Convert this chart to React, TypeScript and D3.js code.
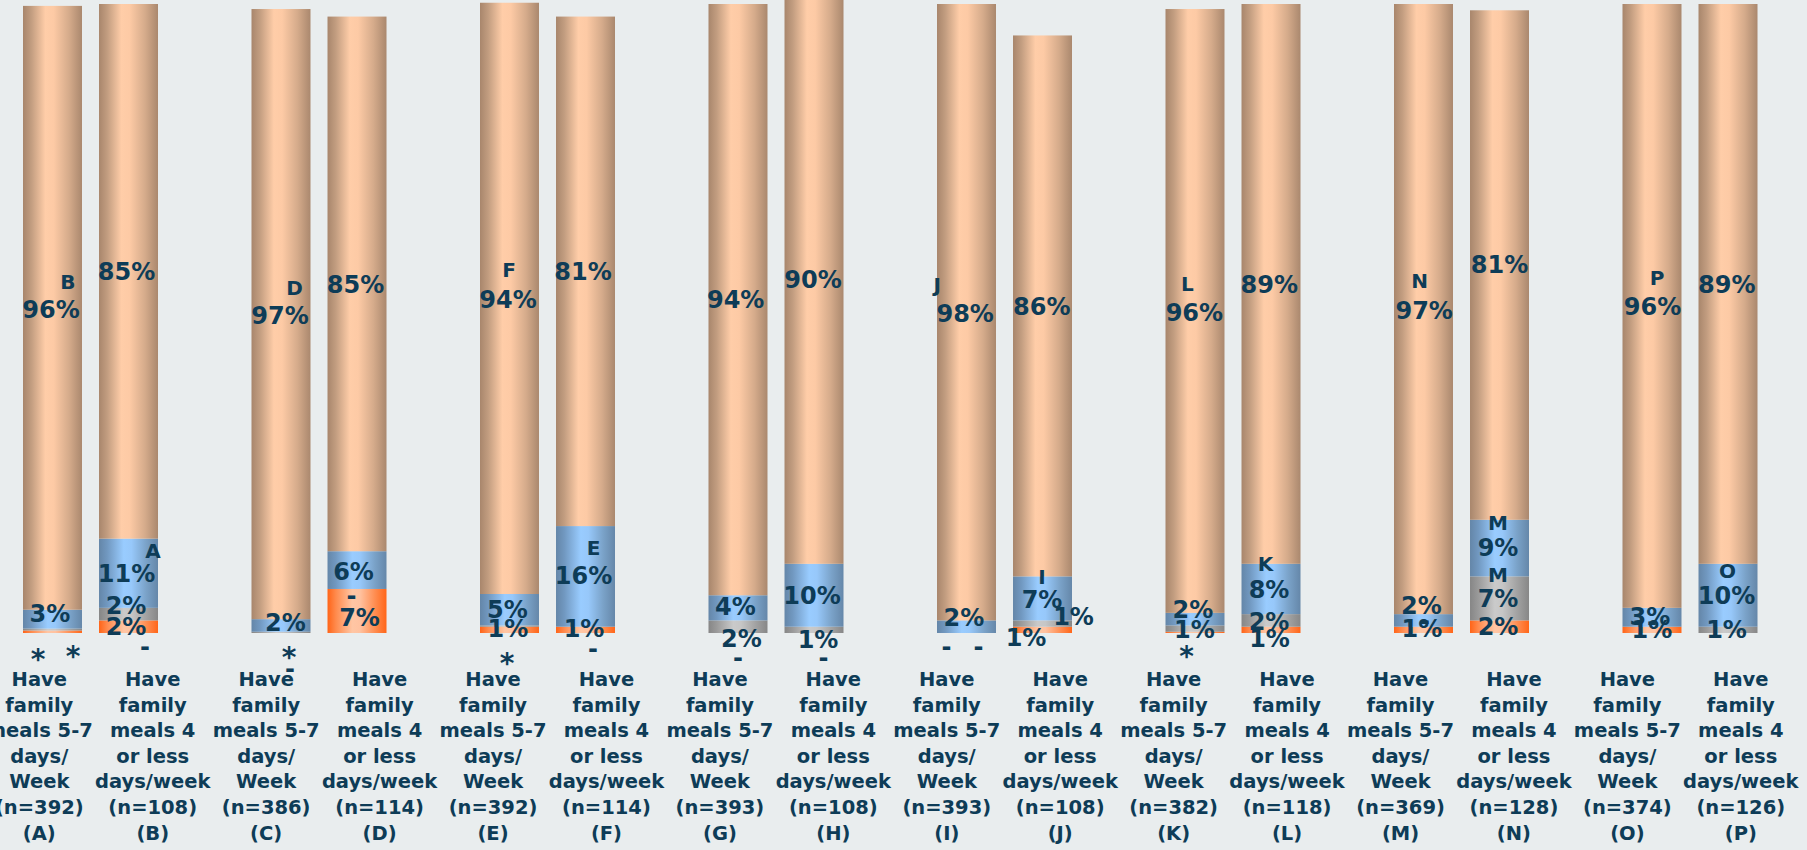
import React from 'react';
import * as d3 from 'd3';

// ---------- data ----------
const categories = ['A', 'B', 'C', 'D', 'E', 'F', 'G', 'H', 'I', 'J', 'K', 'L', 'M', 'N', 'O', 'P'];
const pairs = ['AB', 'CD', 'EF', 'GH', 'IJ', 'KL', 'MN', 'OP'];
const sampleSizes = [392, 108, 386, 114, 392, 114, 393, 108, 393, 108, 382, 118, 369, 128, 374, 126];
const fiveToSevenLines = ['Have', 'family', 'meals 5-7', 'days/', 'Week'];
const fourOrLessLines = ['Have', 'family', 'meals 4', 'or less', 'days/week'];

// stacked from the bottom: orange, gray, blue, peach
const orangeValues = [0.4, 2, 0, 7, 1, 1, 0, 0, 0, 1, 0.2, 1, 1, 2, 1, 0];
const grayValues = [0.3, 2, 0.2, 0, 0.2, 0, 2, 1, 0, 1, 1, 2, 0, 7, 0, 1];
const blueValues = [3, 11, 2, 6, 5, 16, 4, 10, 2, 7, 2, 8, 2, 9, 3, 10];
const peachValues = [96, 85, 97, 85, 94, 81, 94, 90, 98, 86, 96, 89, 97, 81, 96, 89];

// significance letters
const peachSig = ['B', '', 'D', '', 'F', '', '', '', 'J', '', 'L', '', 'N', '', 'P', ''];
const blueSig = ['', 'A', '', '', '', 'E', '', '', '', 'I', '', 'K', '', 'M', '', 'O'];
const graySig = ['', '', '', '', '', '', '', '', '', '', '', '', '', 'M', '', ''];
const orangeSig = ['', '', '', '', '', '', '', '', '', '', '', '', '', '', '', ''];

const extraMarks = [{ cat: 'B', text: '-' }];
const hiddenLabels = ['P.orange'];

// ---------- layout (label nudges, px) ----------
const labelNudges: Record<string, [number, number]> = {
  'A.peach': [-1.5, 1.2], 'A.blue': [-2.5, -5.7], 'A.gray': [20.5, 20.5], 'A.orange': [-14.5, 21.3],
  'B.peach': [-2, 0], 'B.blue': [-2, 0], 'B.gray': [-2.5, -9], 'B.orange': [-2.5, 0],
  'C.peach': [-1, 1.4], 'C.blue': [4.5, -3], 'C.gray': [8, 18.6], 'C.orange': [9, 37],
  'D.peach': [-1.5, 0], 'D.blue': [-3.5, 1], 'D.gray': [-5.5, 8], 'D.orange': [2.5, 6],
  'E.peach': [-1.5, 1], 'E.blue': [-2, 0], 'E.gray': [-2.5, 31], 'E.orange': [-1.5, -1.4],
  'F.peach': [-2.5, 0], 'F.blue': [-2, -1.4], 'F.gray': [7.5, 23.3], 'F.orange': [-1.5, -1.4],
  'G.peach': [-2.3, 0], 'G.blue': [-2.5, -1.3], 'G.gray': [3.5, 11.3], 'G.orange': [0, 26],
  'H.peach': [-1, -1], 'H.blue': [-2, 0], 'H.gray': [4, 9], 'H.orange': [9.5, 26],
  'I.peach': [-1.3, 1.2], 'I.blue': [-2.5, -9.7], 'I.gray': [12, 15], 'I.orange': [-20, 15],
  'J.peach': [-0.7, 0.6], 'J.blue': [-0.5, 1], 'J.gray': [31, -7], 'J.orange': [-16.5, 7.6],
  'K.peach': [-0.6, 1.3], 'K.blue': [-2, -9.7], 'K.gray': [-0.5, 0.9], 'K.orange': [-8.5, 17.6],
  'L.peach': [-1.7, 0], 'L.blue': [-2, 0], 'L.gray': [-2, 0.6], 'L.orange': [-1.5, 8.6],
  'M.peach': [0.7, 0.9], 'M.blue': [-2, -15.4], 'M.gray': [1.5, -5], 'M.orange': [-1.5, -1.4],
  'N.peach': [0, -1], 'N.blue': [-1.5, -1], 'N.gray': [-1.5, 0], 'N.orange': [-1.5, -0.7],
  'O.peach': [0.6, 0.6], 'O.blue': [-2, -1.3], 'O.gray': [0, -4], 'O.orange': [0, -1],
  'P.peach': [-1.2, 0], 'P.blue': [-1.5, 0], 'P.gray': [-1.5, -0.4], 'P.orange': [0, 0],
};
const letterNudges: Record<string, [number, number]> = {
  'A.peach': [17, -27], 'B.blue': [26.5, -23], 'C.peach': [14.5, -28], 'E.peach': [1, -30],
  'F.blue': [10, -27.5], 'I.peach': [-28, -29], 'J.blue': [0, -22.5], 'K.peach': [-7, -29],
  'L.blue': [-3.5, -25], 'M.peach': [-4.6, -29], 'N.blue': [0, -24], 'N.gray': [0, -24],
  'O.peach': [4.6, -29], 'P.blue': [1, -24.5],
};
const extraNudges: Record<string, [number, number]> = { B: [16.5, 15] };

const seriesKeys = ['orange', 'gray', 'blue', 'peach'];
const seriesValues: Record<string, number[]> = {
  orange: orangeValues, gray: grayValues, blue: blueValues, peach: peachValues,
};
const seriesSig: Record<string, string[]> = {
  orange: orangeSig, gray: graySig, blue: blueSig, peach: peachSig,
};
const gradients: Record<string, [number, string][]> = {
  peach: [[0, '#a8866c'], [0.14, '#c29d80'], [0.38, '#ffcda8'], [0.52, '#fdcaa5'], [0.78, '#d5ab8b'], [1, '#aa886e']],
  blue: [[0, '#6486a8'], [0.14, '#7198c0'], [0.42, '#99ccff'], [0.55, '#97c8fa'], [0.8, '#7aa2c8'], [1, '#6587a9']],
  gray: [[0, '#868686'], [0.14, '#9a9a9a'], [0.42, '#cacaca'], [0.55, '#c6c6c6'], [0.8, '#a2a2a2'], [1, '#878787']],
  orange: [[0, '#ff6418'], [0.14, '#ff8a4c'], [0.42, '#ffc6a4'], [0.55, '#ffc2a0'], [0.8, '#ff8e52'], [1, '#ff6619']],
};

const W = 1807;
const H = 850;
const TEXT = '#0e3c57';
const FONT = '"DejaVu Sans", Verdana, sans-serif';

function labelText(v: number) {
  if (v === 0) return '-';
  if (v < 0.5) return '*';
  return `${Math.round(v)}%`;
}
function baselineShift(t: string, fs: number) {
  if (t === '-') return 0.29 * fs;
  if (t === '*') return 0.56 * fs;
  return 0.364 * fs;
}

export default function App() {
  React.useEffect(() => {
    document.body.style.margin = '0';
    document.body.style.background = '#e9edee';
  }, []);

  const rows = categories.map((c, i) => {
    const r: any = { cat: c, idx: i };
    seriesKeys.forEach((k) => (r[k] = seriesValues[k][i]));
    return r;
  });
  const stacked = d3.stack<any>().keys(seriesKeys)(rows);

  const groupScale = d3.scaleBand<string>().domain(pairs).range([-23.75, 1804.25]).padding(0);
  const innerScale = d3.scaleBand<number>().domain([0, 1]).range([46.75, 181.75]).paddingInner(0.224);
  const y = d3.scaleLinear().domain([0, 100]).range([633, 4]);
  const labelX = d3.scalePoint<string>().domain(categories).range([39.3, 1740.8]);

  const bw = innerScale.bandwidth();
  const barX = (i: number) => (groupScale(pairs[Math.floor(i / 2)]) as number) + (innerScale(i % 2) as number);
  const barCx = (i: number) => barX(i) + bw / 2;

  const valueFs = 24;
  const letterFs = 20;
  const axisFs = 19.5;
  const lineH = 25.6;
  const firstBaseline = 686;

  return (
    <svg width={W} height={H} style={{ position: 'absolute', left: 0, top: 0, display: 'block' }} fontFamily={FONT}>
      <defs>
        {seriesKeys.map((k) => (
          <linearGradient key={k} id={`grad-${k}`} x1="0" x2="1" y1="0" y2="0">
            {gradients[k].map(([o, c], j) => (
              <stop key={j} offset={o} stopColor={c} />
            ))}
          </linearGradient>
        ))}
      </defs>
      <rect x={0} y={0} width={W} height={H} fill="#e9edee" />

      {stacked.map((layer) => (
        <g key={layer.key}>
          {layer.map((d, i) => {
            const h = y(d[0]) - y(d[1]);
            if (h <= 0) return null;
            return (
              <rect key={i} x={barX(i)} y={y(d[1])} width={bw} height={h} fill={`url(#grad-${layer.key})`} />
            );
          })}
        </g>
      ))}

      {/* segment value labels + significance letters */}
      {stacked.map((layer) => (
        <g key={`lab-${layer.key}`} fill={TEXT} fontWeight="bold">
          {layer.map((d, i) => {
            const key = `${categories[i]}.${layer.key}`;
            if (hiddenLabels.includes(key)) return null;
            const v = seriesValues[layer.key][i];
            const t = labelText(v);
            const [dx, dy] = labelNudges[key] || [0, 0];
            const cx = barCx(i) + dx;
            const cy = y((d[0] + d[1]) / 2) + dy;
            const fs = t === '*' ? 28 : valueFs;
            const sig = seriesSig[layer.key][i];
            const ln = letterNudges[key] || [0, -25];
            return (
              <g key={i}>
                <text x={cx} y={cy + baselineShift(t, fs)} fontSize={fs} textAnchor="middle">
                  {t}
                </text>
                {sig && (
                  <text
                    x={cx + ln[0]}
                    y={cy + ln[1] + baselineShift(sig, letterFs)}
                    fontSize={letterFs}
                    textAnchor="middle"
                  >
                    {sig}
                  </text>
                )}
              </g>
            );
          })}
        </g>
      ))}

      {extraMarks.map((m) => {
        const i = categories.indexOf(m.cat);
        const [dx, dy] = extraNudges[m.cat] || [0, 0];
        return (
          <text
            key={m.cat}
            x={barCx(i) + dx}
            y={y(0) + dy + baselineShift(m.text, valueFs)}
            fontSize={valueFs}
            fontWeight="bold"
            fill={TEXT}
            textAnchor="middle"
          >
            {m.text}
          </text>
        );
      })}

      {/* category labels */}
      {categories.map((c, i) => {
        const lines = [...(i % 2 === 0 ? fiveToSevenLines : fourOrLessLines), `(n=${sampleSizes[i]})`, `(${c})`];
        return (
          <text
            key={c}
            x={labelX(c)}
            y={firstBaseline}
            fontSize={axisFs}
            fontWeight="bold"
            fill={TEXT}
            textAnchor="middle"
          >
            {lines.map((l, j) => (
              <tspan key={j} x={labelX(c)} y={firstBaseline + j * lineH}>
                {l}
              </tspan>
            ))}
          </text>
        );
      })}
    </svg>
  );
}
